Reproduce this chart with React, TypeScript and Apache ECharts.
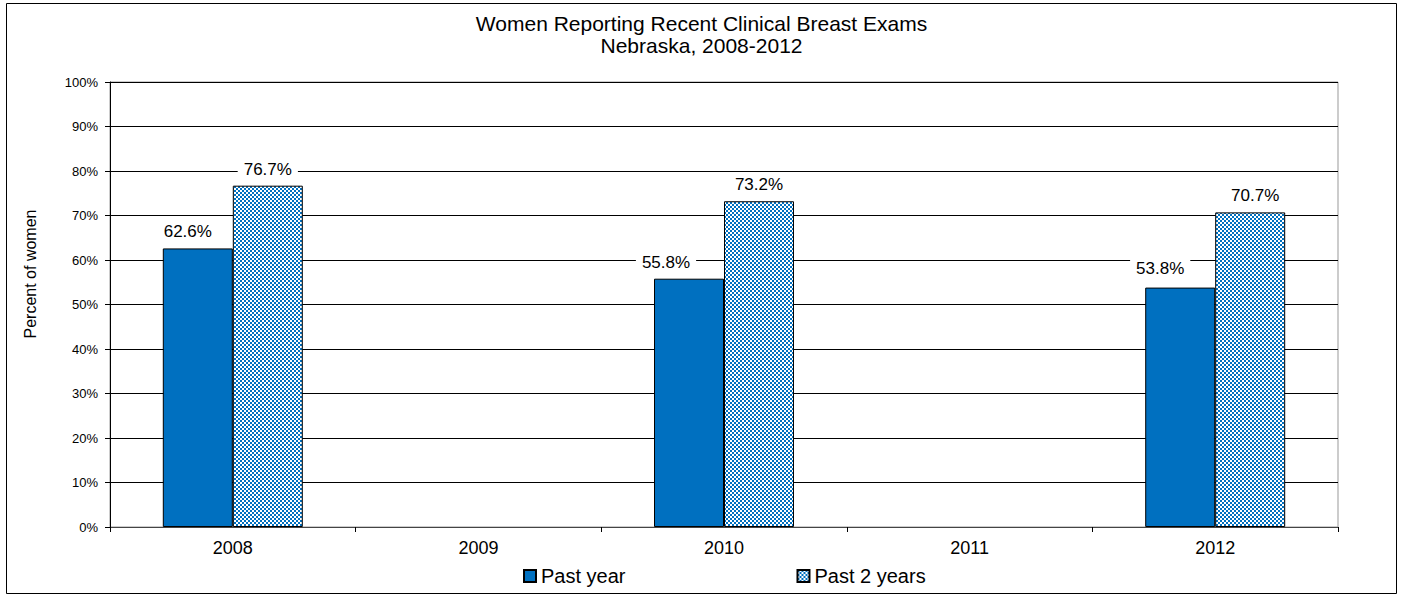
import React, { useEffect, useRef } from "react";
import * as echarts from "echarts";

const categories = ["2008", "2009", "2010", "2011", "2012"];
const pastYear = [62.6, null, 55.8, null, 53.8];
const past2Years = [76.7, null, 73.2, null, 70.7];
const yTicks = [0, 10, 20, 30, 40, 50, 60, 70, 80, 90, 100];
// nudges of the value labels (as placed in the original)
const pastYearLabelShift = [[-10, 0], [0, 0], [-23, 0], [0, 0], [-20, -3]];
const past2YearsLabelShift = [[0, 0], [0, 0], [0, 0], [0, 0], [5, 0]];

function makePattern(): HTMLCanvasElement {
  const c = document.createElement("canvas");
  c.width = 4;
  c.height = 4;
  const ctx = c.getContext("2d")!;
  ctx.fillStyle = "#ffffff";
  ctx.fillRect(0, 0, 4, 4);
  ctx.fillStyle = "#0070C0";
  ctx.fillRect(0, 0, 2, 2);
  ctx.fillRect(2, 2, 2, 2);
  return c;
}

export default function App() {
  const ref = useRef<HTMLDivElement>(null);
  useEffect(() => {
    const chart = echarts.init(ref.current!, undefined, { renderer: "svg" });
    const pat = { image: makePattern(), repeat: "repeat" };
    const font = "Liberation Sans, Arial, sans-serif";
    const labelOpt = {
      show: true,
      position: "top",
      distance: 5,
      fontSize: 17,
      color: "#000",
      fontFamily: font,
      backgroundColor: "#fff",
      padding: [3, 6],
      formatter: (p: any) => p.value.toFixed(1) + "%",
    };
    chart.setOption({
      animation: false,
      textStyle: { fontFamily: font, color: "#000" },
      title: {
        text: "Women Reporting Recent Clinical Breast Exams\nNebraska, 2008-2012",
        left: "center",
        top: 12,
        padding: 0,
        textStyle: { fontSize: 21, fontWeight: "normal", color: "#000", lineHeight: 22, fontFamily: font },
      },
      graphic: [
        {
          type: "rect",
          shape: { x: 6.5, y: 3.5, width: 1390, height: 590 },
          style: { fill: "none", stroke: "#000", lineWidth: 1 },
          silent: true,
        },
        {
          type: "text",
          x: 30,
          y: 274,
          rotation: Math.PI / 2,
          style: {
            text: "Percent of women",
            fontSize: 16,
            fontFamily: font,
            fill: "#000",
            align: "center",
            verticalAlign: "middle",
          },
          silent: true,
        },
      ],
      legend: {
        left: 523,
        top: 566,
        padding: 0,
        itemWidth: 12,
        itemHeight: 12,
        itemGap: 171,
        icon: "rect",
        textStyle: { fontSize: 20, color: "#000", fontFamily: font },
        data: ["Past year", "Past 2 years"],
      },
      grid: { left: 110, right: 65, top: 82, bottom: 70, show: true, borderColor: "#999", borderWidth: 1 },
      xAxis: {
        type: "category",
        data: categories,
        axisLine: { lineStyle: { color: "#444", width: 1 } },
        axisTick: { show: true, length: 5, lineStyle: { color: "#000" } },
        axisLabel: { fontSize: 18, color: "#000", margin: 12, fontFamily: font },
      },
      yAxis: {
        type: "value",
        min: 0,
        max: 100,
        interval: 10,
        axisLine: { show: true, lineStyle: { color: "#000" } },
        axisTick: { show: true, length: 5, lineStyle: { color: "#000" } },
        splitLine: { lineStyle: { color: "#000", width: 1 } },
        axisLabel: {
          fontSize: 13,
          color: "#000",
          margin: 12,
          fontFamily: font,
          formatter: (v: number) => (yTicks.includes(v) ? v + "%" : ""),
        },
      },
      series: [
        {
          name: "Past year",
          type: "bar",
          data: pastYear.map((v, i) => ({
            value: v,
            label: { offset: pastYearLabelShift[i] },
          })),
          barGap: "0%",
          barCategoryGap: "43%",
          itemStyle: { color: "#0070C0", borderColor: "#000", borderWidth: 1 },
          label: labelOpt,
        },
        {
          name: "Past 2 years",
          type: "bar",
          data: past2Years.map((v, i) => ({
            value: v,
            label: { offset: past2YearsLabelShift[i] },
          })),
          barGap: "0%",
          barCategoryGap: "43%",
          itemStyle: { color: pat, borderColor: "#000", borderWidth: 1 },
          label: labelOpt,
        },
      ],
    });
    return () => chart.dispose();
  }, []);
  return (
    <div
      ref={ref}
      style={{ position: "fixed", left: 0, top: 0, width: 1403, height: 597, background: "#fff" }}
    />
  );
}
